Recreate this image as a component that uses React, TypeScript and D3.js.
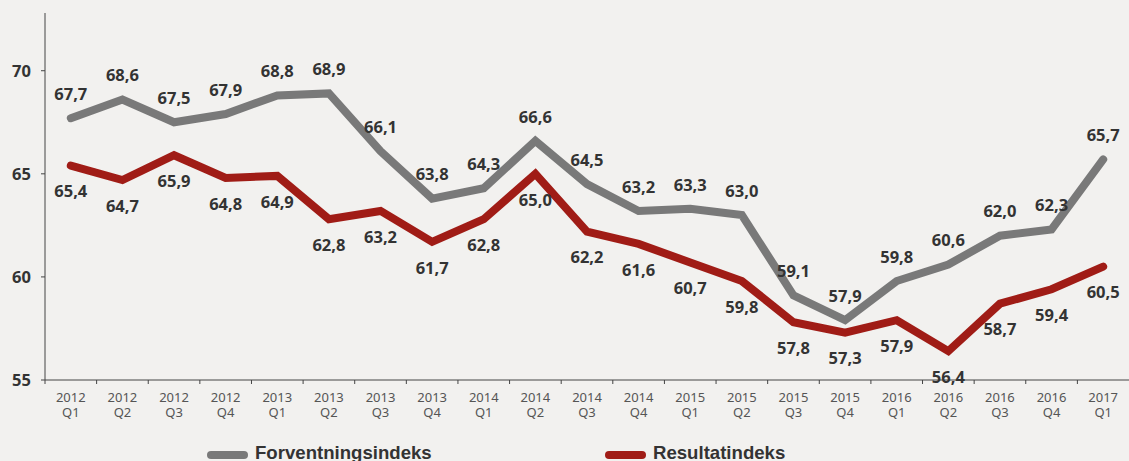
import React, { useEffect, useRef } from 'react';
import * as d3 from 'd3';

const quarters = [
  '2012 Q1', '2012 Q2', '2012 Q3', '2012 Q4',
  '2013 Q1', '2013 Q2', '2013 Q3', '2013 Q4',
  '2014 Q1', '2014 Q2', '2014 Q3', '2014 Q4',
  '2015 Q1', '2015 Q2', '2015 Q3', '2015 Q4',
  '2016 Q1', '2016 Q2', '2016 Q3', '2016 Q4',
  '2017 Q1',
];

const forventning = [67.7, 68.6, 67.5, 67.9, 68.8, 68.9, 66.1, 63.8, 64.3, 66.6, 64.5, 63.2, 63.3, 63.0, 59.1, 57.9, 59.8, 60.6, 62.0, 62.3, 65.7];
const resultat = [65.4, 64.7, 65.9, 64.8, 64.9, 62.8, 63.2, 61.7, 62.8, 65.0, 62.2, 61.6, 60.7, 59.8, 57.8, 57.3, 57.9, 56.4, 58.7, 59.4, 60.5];

const yTicks = [55, 60, 65, 70];

const width = 1129;
const height = 461;

const App: React.FC = () => {
  const svgRef = useRef<SVGSVGElement>(null);

  useEffect(() => {
    if (!svgRef.current) return;
    const svg = d3.select(svgRef.current);
    svg.selectAll('*').remove();

    const x = d3.scaleBand<string>().domain(quarters).range([45, 1129]).padding(0);
    const y = d3.scaleLinear().domain([55, 72.8]).range([380, 13]);
    const cx = (i: number) => (x(quarters[i]) as number) + x.bandwidth() / 2;

    svg.append('rect').attr('width', width).attr('height', height).attr('fill', '#f2f1ef');

    // y axis
    svg.append('line')
      .attr('x1', 45).attr('x2', 45).attr('y1', y.range()[1]).attr('y2', 380)
      .attr('stroke', '#444').attr('stroke-width', 1);
    yTicks.forEach(t => {
      svg.append('line')
        .attr('x1', 41).attr('x2', 45).attr('y1', y(t)).attr('y2', y(t))
        .attr('stroke', '#444');
      svg.append('text')
        .attr('x', 31).attr('y', y(t)).attr('dy', '0.35em')
        .attr('text-anchor', 'end')
        .style('font-family', '"Noto Sans", sans-serif')
        .style('font-weight', 700).style('font-size', '16.5px')
        .attr('fill', '#333').text(t);
    });

    // x axis
    svg.append('line')
      .attr('x1', 45).attr('x2', 1129).attr('y1', 380).attr('y2', 380)
      .attr('stroke', '#444');
    quarters.forEach((q, i) => {
      const x0 = x(q) as number;
      svg.append('line')
        .attr('x1', x0).attr('x2', x0).attr('y1', 380).attr('y2', 384)
        .attr('stroke', '#444');
      const [yr, qt] = q.split(' ');
      const t = svg.append('text')
        .attr('text-anchor', 'middle')
        .style('font-family', '"Noto Sans", sans-serif')
        .style('font-size', '13px')
        .attr('fill', '#555');
      t.append('tspan').attr('x', cx(i)).attr('y', 402).text(yr);
      t.append('tspan').attr('x', cx(i)).attr('y', 417).text(qt);
    });

    const line = d3.line<number>()
      .x((_, i) => cx(i))
      .y(d => y(d));

    const series = [
      { values: forventning, color: '#797979', dy: -24 },
      { values: resultat, color: '#a01c16', dy: 26 },
    ];

    series.forEach(s => {
      svg.append('path')
        .datum(s.values)
        .attr('fill', 'none')
        .attr('stroke', s.color)
        .attr('stroke-width', 8)
        .attr('stroke-linejoin', 'miter')
        .attr('stroke-linecap', 'round')
        .attr('d', line);
    });

    series.forEach(s => {
      svg.append('g').selectAll('text')
        .data(s.values)
        .join('text')
        .attr('x', (_, i) => cx(i))
        .attr('y', d => y(d) + s.dy)
        .attr('dy', '0.35em')
        .attr('text-anchor', 'middle')
        .style('font-family', '"Noto Sans", sans-serif')
        .style('font-weight', 700)
        .style('font-size', '16.5px')
        .attr('fill', '#333')
        .text(d => d.toFixed(1).replace('.', ','));
    });

    // legend
    const legend = [
      { label: 'Forventningsindeks', color: '#797979', x: 211 },
      { label: 'Resultatindeks', color: '#a01c16', x: 609 },
    ];
    legend.forEach(l => {
      svg.append('line')
        .attr('x1', l.x).attr('x2', l.x + 33).attr('y1', 455).attr('y2', 455)
        .attr('stroke', l.color).attr('stroke-width', 8).attr('stroke-linecap', 'round');
      svg.append('text')
        .attr('x', l.x + 44).attr('y', 459)
        .style('font-family', '"Liberation Sans", Arial, sans-serif')
        .style('font-weight', 700).style('font-size', '18.6px')
        .attr('fill', '#333').text(l.label);
    });
  }, []);

  return (
    <div style={{ position: 'absolute', left: 0, top: 0, width, height }}>
      <svg ref={svgRef} width={width} height={height} style={{ display: 'block' }} />
    </div>
  );
};

export default App;
